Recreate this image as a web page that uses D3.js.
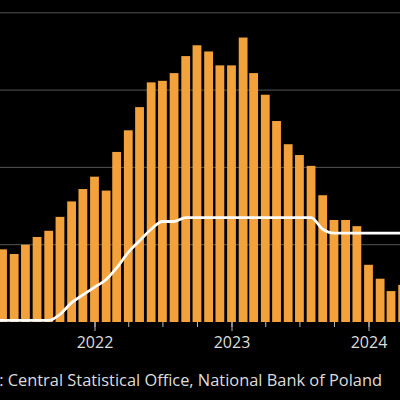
<!DOCTYPE html>
<html>
<head>
<meta charset="utf-8">
<script src="https://cdn.jsdelivr.net/npm/d3@7"></script>
<style>
  body { margin: 0; background: #000; }
  svg { display: block; }
</style>
</head>
<body>
<div id="chart"></div>
<script>
// months, Jan 2021 .. Apr 2024
const months = d3.timeMonth.range(new Date(2021, 0, 1), new Date(2024, 4, 1));

// Poland CPI, % y/y
const cpi = [
  2.6, 2.4, 3.2, 4.3, 4.7, 4.4, 5.0, 5.5, 5.9, 6.8, 7.8, 8.6,
  9.4, 8.5, 11.0, 12.4, 13.9, 15.5, 15.6, 16.1, 17.2, 17.9, 17.5, 16.6,
  16.6, 18.4, 16.1, 14.7, 13.0, 11.5, 10.8, 10.1, 8.2, 6.6, 6.6, 6.2,
  3.7, 2.8, 2.0, 2.4
];

// NBP reference rate, %
const rate = [
  0.1, 0.1, 0.1, 0.1, 0.1, 0.1, 0.1, 0.1, 0.1, 0.5, 1.25, 1.75,
  2.25, 2.75, 3.5, 4.5, 5.25, 6.0, 6.5, 6.5, 6.75, 6.75, 6.75, 6.75,
  6.75, 6.75, 6.75, 6.75, 6.75, 6.75, 6.75, 6.75, 6.0, 5.75, 5.75, 5.75,
  5.75, 5.75, 5.75, 5.75
];

const gridValues = [5, 10, 15, 20];
const yearTicks = [new Date(2022, 0, 1), new Date(2023, 0, 1), new Date(2024, 0, 1)];
const sourceText = "Source: Central Statistical Office, National Bank of Poland";

const data = months.map((m, i) => ({date: m, cpi: cpi[i], rate: rate[i]}));

const W = 400, H = 400;
const base = 322;

const svg = d3.select("#chart").append("svg")
  .attr("width", W)
  .attr("height", H)
  .style("background", "#000");

const x = d3.scaleTime()
  .domain([new Date(2022, 0, 1), new Date(2024, 0, 1)])
  .range([94.5, 368.5]);

const y = d3.scaleLinear()
  .domain([0, 20])
  .range([base, 12.8]);

// gridlines
svg.append("g")
  .selectAll("line")
  .data(gridValues)
  .enter()
  .append("line")
  .attr("x1", 0)
  .attr("x2", W)
  .attr("y1", d => y(d))
  .attr("y2", d => y(d))
  .attr("stroke", "#555")
  .attr("stroke-width", 1);

// bars
const bw = 8.8;
svg.append("g")
  .selectAll("rect")
  .data(data)
  .enter()
  .append("rect")
  .attr("x", d => x(d.date) - bw / 2)
  .attr("y", d => y(d.cpi))
  .attr("width", bw)
  .attr("height", d => base - y(d.cpi))
  .attr("fill", "#f3a23b");

// quarterly ticks
svg.append("g")
  .attr("transform", "translate(0," + base + ")")
  .call(d3.axisBottom(x)
    .ticks(d3.timeMonth.every(3))
    .tickSize(5)
    .tickFormat(""))
  .call(g => g.select(".domain").remove())
  .call(g => g.selectAll("line").attr("stroke", "#bbb"));

// year ticks + labels
svg.append("g")
  .attr("transform", "translate(0," + base + ")")
  .call(d3.axisBottom(x)
    .tickValues(yearTicks)
    .tickSize(9)
    .tickFormat(d3.timeFormat("%Y")))
  .call(g => g.select(".domain").remove())
  .call(g => g.selectAll("line").attr("stroke", "#bbb"))
  .call(g => g.selectAll("text")
    .attr("y", 26)
    .attr("dy", 0)
    .attr("fill", "#ddd")
    .style("font-family", "'Open Sans', sans-serif")
    .style("font-size", "16px"));

// policy rate line
const line = d3.line()
  .x(d => x(d.date))
  .y(d => y(d.rate))
  .curve(d3.curveMonotoneX);

svg.append("path")
  .datum(data)
  .attr("d", line)
  .attr("fill", "none")
  .attr("stroke", "#fff")
  .attr("stroke-width", 2.8);

// source
svg.append("text")
  .attr("x", 382)
  .attr("y", 386)
  .attr("text-anchor", "end")
  .attr("fill", "#ddd")
  .style("font-family", "'Open Sans', sans-serif")
  .style("font-size", "16.4px")
  .text(sourceText);
</script>
</body>
</html>
